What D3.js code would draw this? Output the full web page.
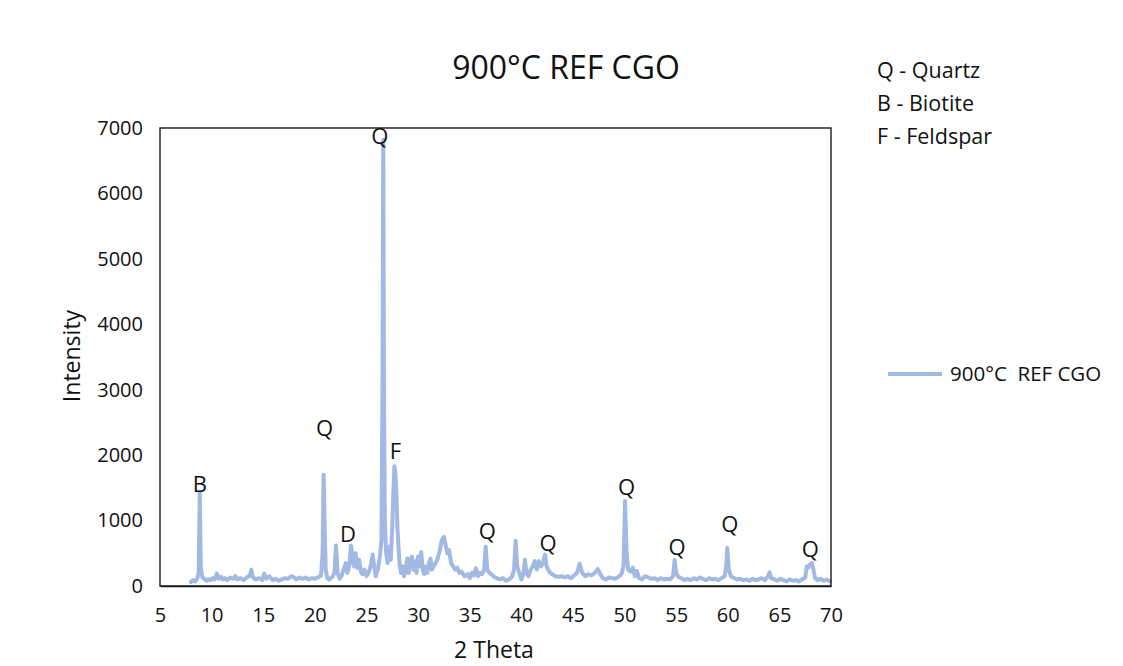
<!DOCTYPE html>
<html>
<head>
<meta charset="utf-8">
<script src="https://cdn.jsdelivr.net/npm/d3@7"></script>
<style>
  html, body { margin: 0; padding: 0; background: #ffffff; }
  svg { display: block; font-family: "Open Sans", "Noto Sans", sans-serif; }
</style>
</head>
<body>
<svg id="chart" width="1123" height="666"></svg>
<script>
// XRD scan: diffraction angle (2θ, degrees) and measured intensity (counts)
const twoTheta = [
  8.0, 8.2, 8.4, 8.6, 8.75, 8.85, 8.95, 9.1, 9.3, 9.5, 9.7, 9.9, 10.1, 10.3, 10.5, 10.7, 10.9, 11.1, 11.3, 11.5,
  11.8, 12.1, 12.3, 12.5, 12.8, 13.1, 13.4, 13.7, 13.85, 14.0, 14.3, 14.6, 14.9, 15.1, 15.3, 15.6, 15.9, 16.2, 16.5, 16.8,
  17.1, 17.4, 17.7, 17.9, 18.2, 18.5, 18.8, 19.1, 19.4, 19.7, 20.0, 20.3, 20.6, 20.75, 20.85, 20.95, 21.05, 21.2, 21.4, 21.7,
  21.9, 22.05, 22.2, 22.4, 22.6, 22.8, 23.0, 23.15, 23.35, 23.5, 23.65, 23.8, 23.95, 24.1, 24.3, 24.45, 24.6, 24.8, 25.0, 25.2,
  25.4, 25.6, 25.75, 25.9, 26.1, 26.3, 26.45, 26.55, 26.63, 26.7, 26.78, 26.9, 27.05, 27.2, 27.35, 27.5, 27.6, 27.7, 27.8, 27.9,
  28.0, 28.1, 28.2, 28.35, 28.5, 28.65, 28.8, 28.95, 29.1, 29.25, 29.4, 29.55, 29.7, 29.85, 30.0, 30.15, 30.3, 30.45, 30.6, 30.75,
  30.9, 31.05, 31.2, 31.35, 31.5, 31.7, 31.9, 32.1, 32.3, 32.5, 32.7, 32.85, 33.0, 33.2, 33.4, 33.6, 33.8, 34.0, 34.2, 34.5,
  34.8, 35.0, 35.2, 35.4, 35.6, 35.8, 36.0, 36.2, 36.4, 36.55, 36.7, 36.9, 37.1, 37.3, 37.6, 37.9, 38.2, 38.5, 38.8, 39.1,
  39.3, 39.45, 39.6, 39.8, 40.0, 40.2, 40.35, 40.5, 40.7, 40.9, 41.1, 41.3, 41.5, 41.7, 41.9, 42.1, 42.3, 42.45, 42.6, 42.8,
  43.0, 43.3, 43.6, 43.9, 44.2, 44.5, 44.8, 45.1, 45.4, 45.65, 45.9, 46.2, 46.5, 46.8, 47.1, 47.4, 47.6, 47.9, 48.2, 48.5,
  48.8, 49.1, 49.4, 49.7, 49.9, 50.05, 50.2, 50.35, 50.6, 50.8, 51.0, 51.2, 51.4, 51.7, 52.0, 52.3, 52.6, 52.9, 53.2, 53.5,
  53.8, 54.1, 54.4, 54.7, 54.85, 55.0, 55.2, 55.5, 55.8, 56.1, 56.4, 56.7, 57.0, 57.3, 57.6, 57.9, 58.2, 58.5, 58.8, 59.1,
  59.4, 59.7, 59.85, 59.95, 60.1, 60.3, 60.6, 60.9, 61.2, 61.5, 61.8, 62.1, 62.4, 62.7, 63.0, 63.3, 63.6, 63.9, 64.05, 64.2,
  64.5, 64.8, 65.1, 65.4, 65.7, 66.0, 66.3, 66.6, 66.9, 67.2, 67.5, 67.65, 67.8, 67.95, 68.15, 68.3, 68.45, 68.7, 69.0, 69.3,
  69.6, 69.9
];
const intensity = [
  60, 90, 70, 110, 200, 1430, 300, 130, 110, 80, 100, 90, 120, 100, 190, 110, 140, 100, 120, 90,
  130, 110, 150, 100, 120, 90, 130, 160, 250, 130, 100, 120, 90, 190, 110, 150, 90, 110, 80, 100,
  120, 110, 150, 140, 100, 130, 110, 130, 100, 120, 110, 130, 160, 500, 1700, 900, 250, 120, 100, 140,
  200, 620, 200, 110, 160, 260, 350, 200, 320, 620, 450, 300, 500, 280, 400, 220, 180, 250, 150, 200,
  300, 480, 300, 150, 250, 450, 700, 3000, 6820, 2900, 1000, 500, 350, 600, 400, 900, 1400, 1830, 1750, 1400,
  900, 600, 350, 200, 300, 150, 250, 420, 200, 400, 450, 250, 380, 200, 450, 300, 520, 250, 180, 300,
  200, 350, 420, 250, 300, 350, 420, 550, 700, 750, 600, 500, 550, 350, 300, 250, 280, 200, 220, 150,
  180, 120, 200, 160, 270, 150, 200, 180, 250, 600, 250, 200, 180, 150, 120, 100, 120, 80, 100, 140,
  250, 690, 300, 200, 100, 180, 400, 200, 150, 250, 300, 380, 250, 380, 300, 350, 480, 300, 250, 200,
  180, 150, 140, 150, 130, 150, 120, 160, 200, 340, 200, 150, 180, 160, 200, 260, 200, 120, 100, 130,
  120, 110, 140, 180, 300, 1300, 500, 250, 220, 280, 150, 230, 120, 100, 150, 130, 110, 120, 90, 120,
  100, 110, 100, 150, 400, 200, 140, 120, 90, 110, 90, 120, 100, 130, 110, 90, 120, 100, 110, 90,
  120, 150, 300, 580, 250, 150, 120, 100, 110, 90, 100, 80, 110, 90, 100, 120, 90, 150, 210, 120,
  100, 80, 110, 90, 70, 100, 80, 90, 70, 100, 130, 300, 280, 330, 350, 250, 120, 90, 110, 80,
  100, 70
];

// Phase markers placed above their reflections (baseline position in data units)
const peakLetters = ["B", "Q", "D", "Q", "F", "Q", "Q", "Q", "Q", "Q", "Q"];
const peakAngles  = [8.85, 20.95, 23.2, 26.3, 27.8, 36.7, 42.6, 50.2, 55.1, 60.2, 68.0];
const peakHeights = [1437, 2293, 672, 6755, 1941, 718, 535, 1391, 474, 825, 443];

// Axis ticks
const xTicks = [5, 10, 15, 20, 25, 30, 35, 40, 45, 50, 55, 60, 65, 70];
const yTicks = [0, 1000, 2000, 3000, 4000, 5000, 6000, 7000];

const phaseKey = ["Q - Quartz", "B - Biotite", "F - Feldspar"];
const seriesName = "900°C  REF CGO";
const chartTitle = "900°C REF CGO";

const svg = d3.select("#chart");
const plot = { left: 160, right: 831, top: 128, bottom: 586 };
const lineColor = "#a2b9e3";

const x = d3.scaleLinear().domain([5, 70]).range([plot.left, plot.right]);
const y = d3.scaleLinear().domain([0, 7000]).range([plot.bottom, plot.top]);

// Title
svg.append("text")
  .attr("x", 566).attr("y", 79)
  .attr("text-anchor", "middle")
  .attr("font-size", 32)
  .attr("fill", "#111")
  .text(chartTitle);

// Data line
const points = twoTheta.map((t, i) => [t, intensity[i]]);
svg.append("path")
  .datum(points)
  .attr("fill", "none")
  .attr("stroke", lineColor)
  .attr("stroke-width", 4)
  .attr("stroke-linejoin", "round")
  .attr("stroke-linecap", "round")
  .attr("d", d3.line().x(d => x(d[0])).y(d => y(d[1])));

// Plot frame
svg.append("rect")
  .attr("x", plot.left).attr("y", plot.top)
  .attr("width", plot.right - plot.left)
  .attr("height", plot.bottom - plot.top)
  .attr("fill", "none")
  .attr("stroke", "#1a1a1a")
  .attr("stroke-width", 1.4);

// Axes (labels only, no tick marks)
const xAxis = d3.axisBottom(x).tickValues(xTicks).tickSize(0).tickPadding(22);
svg.append("g")
  .attr("transform", `translate(0,${plot.bottom})`)
  .call(xAxis)
  .call(g => g.select(".domain").attr("stroke", "#1a1a1a").attr("stroke-width", 1.6))
  .call(g => g.selectAll("text").attr("font-size", 20).attr("fill", "#111")
    .attr("font-family", "'Open Sans', sans-serif"));

const yAxis = d3.axisLeft(y).tickValues(yTicks).tickSize(0).tickPadding(17).tickFormat(d3.format("d"));
svg.append("g")
  .attr("transform", `translate(${plot.left},0)`)
  .call(yAxis)
  .call(g => g.select(".domain").remove())
  .call(g => g.selectAll("text").attr("font-size", 20).attr("fill", "#111")
    .attr("font-family", "'Open Sans', sans-serif"));

// Axis titles
svg.append("text")
  .attr("x", 494).attr("y", 658)
  .attr("text-anchor", "middle")
  .attr("font-size", 23)
  .attr("fill", "#111")
  .text("2 Theta");

svg.append("text")
  .attr("transform", "translate(80,356) rotate(-90)")
  .attr("text-anchor", "middle")
  .attr("font-size", 23)
  .attr("fill", "#111")
  .text("Intensity");

// Peak letters
svg.append("g").selectAll("text")
  .data(peakLetters)
  .join("text")
  .attr("x", (d, i) => x(peakAngles[i]))
  .attr("y", (d, i) => y(peakHeights[i]))
  .attr("text-anchor", "middle")
  .attr("font-size", 22)
  .attr("fill", "#111")
  .text(d => d);

// Phase key
svg.append("g").selectAll("text")
  .data(phaseKey)
  .join("text")
  .attr("x", 877)
  .attr("y", (d, i) => 78 + i * 33)
  .attr("font-size", 21.5)
  .attr("fill", "#111")
  .text(d => d);

// Series legend
svg.append("line")
  .attr("x1", 888).attr("x2", 942)
  .attr("y1", 374).attr("y2", 374)
  .attr("stroke", lineColor)
  .attr("stroke-width", 4);
svg.append("text")
  .attr("x", 950).attr("y", 381)
  .attr("font-size", 20.5)
  .attr("fill", "#111")
  .style("white-space", "pre")
  .text(seriesName);
</script>
</body>
</html>
